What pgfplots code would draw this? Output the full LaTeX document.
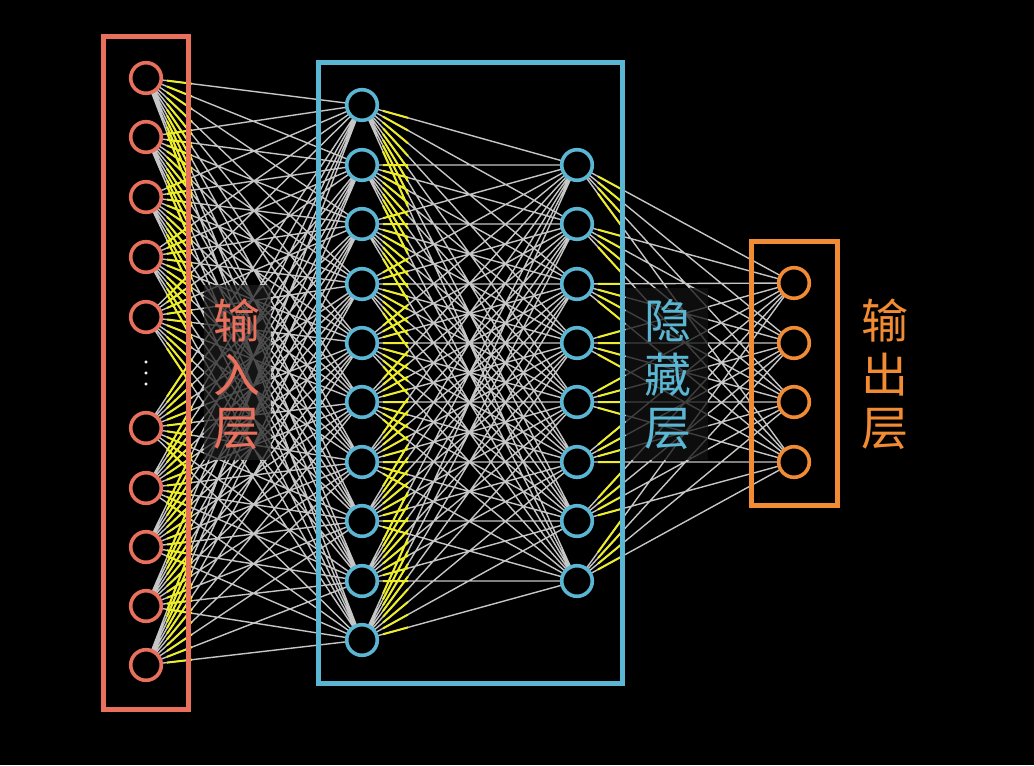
\documentclass[border=0pt]{standalone}
\usepackage{pgfplots}
\pgfplotsset{compat=1.18}
\usepackage{fontspec}
\newfontfamily\cjk{Noto Sans CJK SC}
\definecolor{cred}{HTML}{E8705C}
\definecolor{cblue}{HTML}{5AB6D2}
\definecolor{corange}{HTML}{F28C34}
\definecolor{cgray}{HTML}{C6C6C6}
\definecolor{cyel}{HTML}{EDED2A}
\definecolor{cdim}{HTML}{1D1D1D}
\definecolor{cdimb}{HTML}{121212}
% node positions (pixel coordinates, y downwards)
\def\Lin{78,137,197,257,317,428,488,547,606,665}
\def\Lh{105,165,224,284,343,402,462,521,581,640}
\def\Lhh{165,224,284,343,402,462,521,581}
\def\Lout{283,343,402,462}
\def\grayedges{}%
\def\yedges{}%
\newcommand\addedges[4]{%
  \foreach \a in #2 {%
    \foreach \b in #4 {%
      \pgfmathsetmacro\ya{\a+(\b-\a)/(#3-#1)*21}%
      \pgfmathsetmacro\yb{\a+(\b-\a)/(#3-#1)*46}%
      \pgfmathsetmacro\xa{#1+21}%
      \pgfmathsetmacro\xb{#1+46}%
      \xdef\grayedges{\grayedges (#1,\a) (#3,\b) (#1,nan)}%
      \xdef\yedges{\yedges (\xa,\ya) (\xb,\yb) (\xa,nan)}%
    }%
  }%
}
\addedges{146}{\Lin}{362}{\Lh}
\addedges{362}{\Lh}{577}{\Lhh}
\addedges{577}{\Lhh}{794}{\Lout}
\newcommand\lab{\cjk\fontsize{47bp}{47bp}\selectfont}
\begin{document}
\begin{tikzpicture}
\begin{axis}[
  scale only axis, width=1034bp, height=765bp,
  xmin=0, xmax=1034, ymin=0, ymax=765, y dir=reverse,
  hide axis, unbounded coords=jump,
]
\addplot[fill=black, draw=none] coordinates {(0,0) (1034,0) (1034,765) (0,765)} -- cycle;
\edef\tmp{\noexpand\addplot[cgray, line width=1.4bp] coordinates {\grayedges};}\tmp
\edef\tmp{\noexpand\addplot[cyel, line width=2bp] coordinates {\yedges};}\tmp
% label dimming boxes
\addplot[fill=cdim, fill opacity=0.72, draw=none] coordinates {(204,285) (271,285) (271,460) (204,460)} -- cycle;
\addplot[fill=cdimb, fill opacity=0.75, draw=none] coordinates {(626,288) (708,288) (708,460) (626,460)} -- cycle;
% layer boxes
\addplot[cred, line width=5bp] coordinates {(103,37) (188,37) (188,709) (103,709)} -- cycle;
\addplot[cblue, line width=5bp] coordinates {(318,63) (622,63) (622,683) (318,683)} -- cycle;
\addplot[corange, line width=5bp] coordinates {(751,241) (837,241) (837,505) (751,505)} -- cycle;
% nodes
\addplot[only marks, mark=*, mark size=15.3bp, mark options={fill=black, draw=cred, line width=3.6bp}]
  coordinates {(146,78) (146,137) (146,197) (146,257) (146,317) (146,428) (146,488) (146,547) (146,606) (146,665)};
\addplot[only marks, mark=*, mark size=15.3bp, mark options={fill=black, draw=cblue, line width=3.6bp}]
  coordinates {(362,105) (362,165) (362,224) (362,284) (362,343) (362,402) (362,462) (362,521) (362,581) (362,640)};
\addplot[only marks, mark=*, mark size=15.3bp, mark options={fill=black, draw=cblue, line width=3.6bp}]
  coordinates {(577,165) (577,224) (577,284) (577,343) (577,402) (577,462) (577,521) (577,581)};
\addplot[only marks, mark=*, mark size=15.3bp, mark options={fill=black, draw=corange, line width=3.6bp}]
  coordinates {(794,283) (794,343) (794,402) (794,462)};
\addplot[only marks, mark=*, mark size=1.4bp, white] coordinates {(146,362) (146,373) (146,384)};
% labels
\node[text=cred, font=\lab] at (axis cs:237,321) {输};
\node[text=cred, font=\lab] at (axis cs:237,375) {入};
\node[text=cred, font=\lab] at (axis cs:237,429) {层};
\node[text=cblue, font=\lab] at (axis cs:668,321) {隐};
\node[text=cblue, font=\lab] at (axis cs:668,375) {藏};
\node[text=cblue, font=\lab] at (axis cs:668,429) {层};
\node[text=corange, font=\lab] at (axis cs:885,321) {输};
\node[text=corange, font=\lab] at (axis cs:885,375) {出};
\node[text=corange, font=\lab] at (axis cs:885,429) {层};
\end{axis}
\end{tikzpicture}
\end{document}
